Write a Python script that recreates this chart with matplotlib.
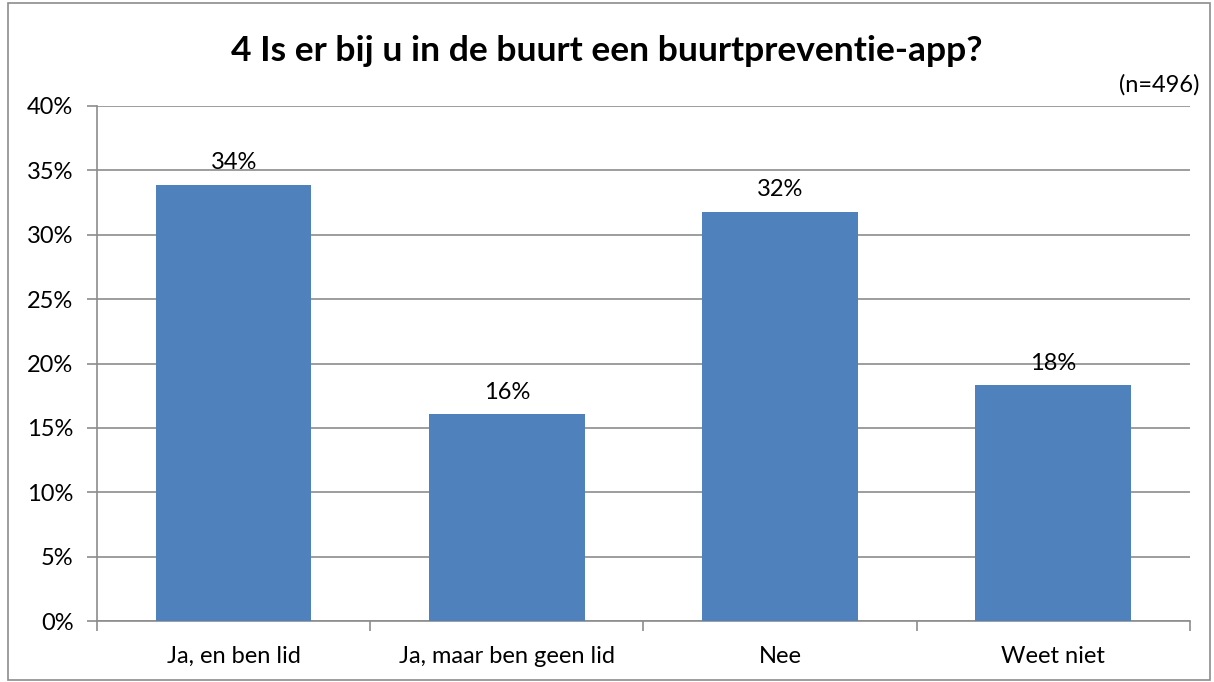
import matplotlib
matplotlib.use("Agg")
import matplotlib.pyplot as plt
from matplotlib.patches import Rectangle
from matplotlib.ticker import FuncFormatter, MultipleLocator

categories = ["Ja, en ben lid", "Ja, maar ben geen lid", "Nee", "Weet niet"]
values = [33.9, 16.05, 31.8, 18.3]
labels = ["34%", "16%", "32%", "18%"]
title = "4 Is er bij u in de buurt een buurtpreventie-app?"
note = "(n=496)"

plt.rcParams['font.family'] = ['Lato', 'DejaVu Sans']
FS = 17

fig = plt.figure(figsize=(12.14, 6.82), dpi=100)
fig.patches.append(Rectangle((0.007, 0.003), 0.99, 0.993, transform=fig.transFigure,
                             fill=False, edgecolor='#8c8c8c', linewidth=1.2))
ax = fig.add_axes([0.0799, 0.0894, 0.9003, 0.7552])

x = list(range(len(categories)))
bar_color = '#4f81bd'
ax.bar(x, values, width=0.57, color=bar_color, zorder=3)
for xi, v, lab in zip(x, values, labels):
    ax.text(xi, v + 0.9, lab, ha='center', va='bottom', fontsize=FS, color='black')

ax.set_xlim(-0.5, len(categories) - 0.5)
ax.set_ylim(0, 40)
ax.yaxis.set_major_locator(MultipleLocator(5))
ax.yaxis.set_major_formatter(FuncFormatter(lambda v, p: f"{v:.0f}%"))
ax.grid(axis='y', color='#8c8c8c', linewidth=1.2, zorder=0)
ax.set_axisbelow(True)

ax.set_xticks(x)
ax.set_xticklabels(categories, fontsize=FS)
ax.tick_params(axis='x', length=0, pad=18)
ax.set_xticks([i - 0.5 for i in range(len(categories) + 1)], minor=True)
ax.tick_params(axis='x', which='minor', length=7, color='#8c8c8c', width=1.2)
ax.tick_params(axis='y', length=7, color='#8c8c8c', width=1.2, labelsize=FS, pad=10)

for s in ['top', 'right']:
    ax.spines[s].set_visible(False)
for s in ['left', 'bottom']:
    ax.spines[s].set_color('#8c8c8c')
    ax.spines[s].set_linewidth(1.2)

fig.text(0.5, 0.925, title, ha='center', va='center', fontsize=25.5, fontweight='bold')
fig.text(0.988, 0.875, note, ha='right', va='center', fontsize=FS)

fig.savefig("out.png", dpi=100)
